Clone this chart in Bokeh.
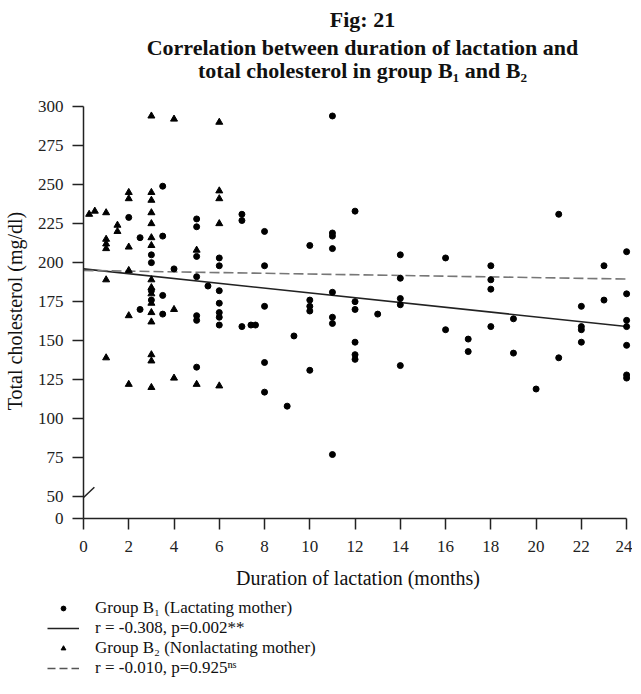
import numpy as np
from bokeh.plotting import figure
from bokeh.layouts import column
from bokeh.models import Range1d, FixedTicker, Legend, LegendItem, Arrow, Label
from bokeh.embed import file_html
from bokeh.resources import INLINE

# ---- data ----
b1_months = [2, 2.5, 2.5, 3, 3, 3, 3, 3.5, 3.5, 3.5, 3.5, 4, 5, 5, 5, 5, 5, 5, 5, 5.5,
             6, 6, 6, 6, 6, 6, 6, 7, 7, 7, 7.4, 7.6, 8, 8, 8, 8, 8, 9, 9.3,
             10, 10, 10, 10, 10, 11, 11, 11, 11, 11, 11, 11, 11,
             12, 12, 12, 12, 12, 12, 13, 14, 14, 14, 14, 14, 16, 16, 17, 17,
             18, 18, 18, 18, 19, 19, 20, 21, 21, 22, 22, 22, 22, 23, 23,
             24, 24, 24, 24, 24, 24, 24]
b1_chol = [229, 216, 170, 205, 200, 182, 176, 249, 217, 179, 167, 196, 228, 223, 204, 191, 166, 163, 133, 185,
           203, 198, 182, 174, 168, 165, 160, 231, 227, 159, 160, 160, 220, 198, 172, 136, 117, 108, 153,
           211, 176, 172, 169, 131, 294, 219, 217, 209, 181, 165, 161, 77,
           233, 175, 170, 149, 141, 138, 167, 205, 190, 177, 173, 134, 203, 157, 151, 143,
           198, 189, 183, 159, 164, 142, 119, 231, 139, 172, 159, 157, 149, 198, 176,
           207, 180, 163, 159, 147, 128, 126]

b2_months = [0.25, 0.5, 1, 1, 1, 1, 1, 1, 1.5, 1.5, 2, 2, 2, 2, 2, 2,
             3, 3, 3, 3, 3, 3, 3, 3, 3, 3, 3, 3, 3, 3, 3, 3,
             4, 4, 4, 5, 5, 6, 6, 6, 6, 6]
b2_chol = [231, 233, 232, 215, 212, 209, 189, 139, 224, 220, 245, 241, 210, 195, 166, 122,
           294, 245, 240, 232, 225, 216, 211, 189, 184, 180, 174, 168, 162, 141, 137, 120,
           292, 170, 126, 208, 122, 290, 246, 241, 225, 121]

# regression lines (intercept, slope)
b1_fit = (196.0, -1.54)
b2_fit = (195.0, -0.23)
fit_x = np.array([0.0, 24.0])

x_ticks = list(range(0, 25, 2))
y_ticks = [50, 75, 100, 125, 150, 175, 200, 225, 250, 275, 300]
y_zero_pos = 36          # broken axis: where "0" is drawn

title_lines = ["Fig: 21",
               "Correlation between duration of lactation and",
               "total cholesterol in group B\u2081 and B\u2082"]
legend_labels = ["Group B\u2081 (Lactating mother)",
                 "r = -0.308, p=0.002**",
                 "Group B\u2082 (Nonlactating mother)",
                 "r = -0.010, p=0.925\u207f\u02e2"]

FONT = "Liberation Serif"
W = 632


def blank(height):
    f = figure(width=W, height=height, output_backend="svg", toolbar_location=None,
               x_range=Range1d(0, W), y_range=Range1d(0, height), min_border=0,
               background_fill_color="white", border_fill_color="white",
               frame_align=False)
    f.outline_line_color = None
    f.grid.visible = False
    f.axis.visible = False
    return f


# ---- title panel ----
t = blank(93)
for txt, yb in zip(title_lines, [74, 46, 23]):
    t.add_layout(Label(x=362, y=yb, x_units="screen", y_units="screen", text=txt,
                       text_align="center", text_baseline="alphabetic",
                       text_font=FONT, text_font_style="bold",
                       text_font_size="22px", text_color="#111111"))

# ---- main chart ----
p = figure(width=W, height=501, output_backend="svg", toolbar_location=None,
           x_range=Range1d(0, 24.26), y_range=Range1d(y_zero_pos, 302),
           min_border_left=80, min_border_right=0, min_border_top=10,
           min_border_bottom=76, background_fill_color="white",
           border_fill_color="white", frame_align=False)
p.outline_line_color = None
p.grid.visible = False

p.xaxis.ticker = FixedTicker(ticks=x_ticks)
p.xaxis.bounds = (0, 24)
p.yaxis.ticker = FixedTicker(ticks=[y_zero_pos] + y_ticks)
p.yaxis.major_label_overrides = {y_zero_pos: "0"}
p.yaxis.bounds = (y_zero_pos, 300)
for ax in (p.xaxis, p.yaxis):
    ax.minor_tick_line_color = None
    ax.major_tick_in = 0
    ax.major_tick_out = 11
    ax.axis_line_width = 1.5
    ax.major_tick_line_width = 1.5
    ax.axis_line_color = "#222222"
    ax.major_tick_line_color = "#222222"
    ax.major_label_text_font = FONT
    ax.major_label_text_font_size = "17px"
    ax.major_label_text_color = "#222222"
    ax.axis_label_text_font = FONT
    ax.axis_label_text_font_size = "20px"
    ax.axis_label_text_font_style = "normal"
    ax.axis_label_text_color = "#111111"
p.xaxis.major_label_standoff = 11
p.yaxis.major_label_standoff = 9
p.xaxis.axis_label = "Duration of lactation (months)"
p.xaxis.axis_label_standoff = 12
p.yaxis.axis_label = "Total cholesterol (mg/dl)"
p.yaxis.axis_label_standoff = 9

l1 = p.line(fit_x, b1_fit[0] + b1_fit[1] * fit_x, line_color="#222222", line_width=1.6)
l2 = p.line(fit_x, b2_fit[0] + b2_fit[1] * fit_x, line_color="#777777",
            line_width=1.6, line_dash="10 4")
r1 = p.scatter(b1_months, b1_chol, marker="circle", size=6, color="black")
r2 = p.scatter(b2_months, b2_chol, marker="triangle", size=7, color="black")

# axis break mark
p.add_layout(Arrow(end=None, x_start=-0.47, y_start=43, x_end=0.48, y_end=56,
                   line_width=1.5, line_color="#222222"))

# ---- legend panel ----
q = blank(84)
nan = np.array([np.nan])
d1 = q.scatter(nan, nan, marker="circle", size=4, color="black")
d2 = q.line(nan, nan, line_color="#222222", line_width=1.4)
d3 = q.scatter(nan, nan, marker="triangle", size=6, color="black")
d4 = q.line(nan, nan, line_color="#555555", line_width=1.4, line_dash="8 4")
legend = Legend(items=[LegendItem(label=lab, renderers=[r])
                       for lab, r in zip(legend_labels, [d1, d2, d3, d4])],
                location=(47, 0))
legend.label_text_font = FONT
legend.label_text_font_size = "17px"
legend.label_text_color = "#111111"
legend.glyph_width = 32
legend.glyph_height = 12
legend.label_height = 20
legend.label_standoff = 16
legend.spacing = 0
legend.padding = 0
legend.margin = 0
legend.border_line_alpha = 0
legend.background_fill_alpha = 0
q.add_layout(legend)

layout = column(t, p, q, spacing=0)
open("out.html", "w").write(file_html(layout, INLINE))
